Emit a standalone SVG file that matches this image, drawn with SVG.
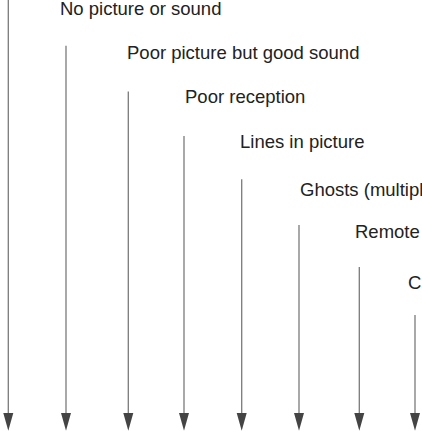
<svg xmlns="http://www.w3.org/2000/svg" width="422" height="439" viewBox="0 0 422 439">
<style>
.lbl{font-family:"Liberation Sans",Arial,sans-serif;font-size:18.5px;fill:#222}
.ln{stroke:#7a7a7a;stroke-width:1.3;fill:none}
.ah{fill:#444}
</style>
<defs>
<path id="arrow" class="ah" d="M-5,0 L5,0 L0,17.7 Z"/>
</defs>
<rect width="422" height="439" fill="#fff"/>
<g id="connectors">
<line class="ln" x1="8.3" y1="0" x2="8.3" y2="414"/>
<line class="ln" x1="66" y1="45.7" x2="66" y2="414"/>
<line class="ln" x1="128.3" y1="91.5" x2="128.3" y2="414"/>
<line class="ln" x1="184" y1="136" x2="184" y2="414"/>
<line class="ln" x1="241.7" y1="179.3" x2="241.7" y2="414"/>
<line class="ln" x1="299" y1="225" x2="299" y2="414"/>
<line class="ln" x1="359.3" y1="267" x2="359.3" y2="414"/>
<line class="ln" x1="415" y1="315" x2="415" y2="414"/>
<use href="#arrow" x="8.3" y="413"/>
<use href="#arrow" x="66" y="413"/>
<use href="#arrow" x="128.3" y="413"/>
<use href="#arrow" x="184" y="413"/>
<use href="#arrow" x="241.7" y="413"/>
<use href="#arrow" x="299" y="413"/>
<use href="#arrow" x="359.3" y="413"/>
<use href="#arrow" x="415" y="413"/>
</g>
<g id="node1"><text class="lbl" x="60" y="15">No picture or sound</text></g>
<g id="node2"><text class="lbl" x="127" y="59.3">Poor picture but good sound</text></g>
<g id="node3"><text class="lbl" x="185" y="103.3">Poor reception</text></g>
<g id="node4"><text class="lbl" x="240" y="148.3">Lines in picture</text></g>
<g id="node5"><text class="lbl" x="300" y="196">Ghosts (multipl</text></g>
<g id="node6"><text class="lbl" x="355" y="238">Remote</text></g>
<g id="node7"><text class="lbl" x="408" y="289">C</text></g>
</svg>
